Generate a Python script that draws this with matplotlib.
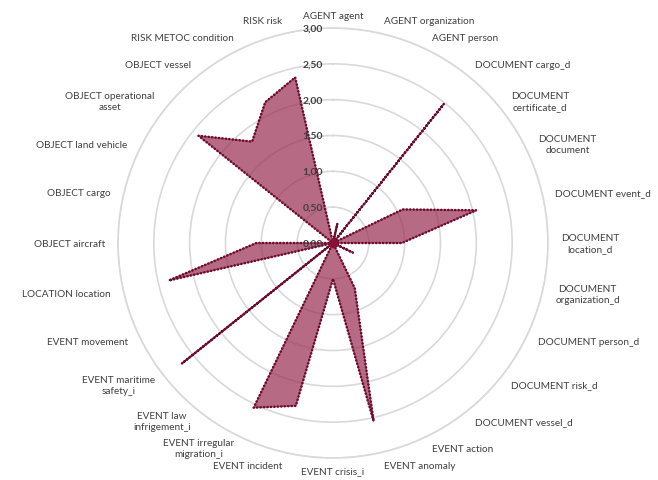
import numpy as np
import matplotlib.pyplot as plt
from matplotlib import rcParams

rcParams['font.family'] = ['Lato', 'DejaVu Sans']

# categories clockwise from the top
categories = ["AGENT agent", "AGENT organization", "AGENT person",
              "DOCUMENT cargo_d", "DOCUMENT\ncertificate_d", "DOCUMENT\ndocument",
              "DOCUMENT event_d", "DOCUMENT\nlocation_d", "DOCUMENT\norganization_d",
              "DOCUMENT person_d", "DOCUMENT risk_d", "DOCUMENT vessel_d",
              "EVENT action", "EVENT anomaly", "EVENT crisis_i", "EVENT incident",
              "EVENT irregular\nmigration_i", "EVENT law\ninfrigement_i",
              "EVENT maritime\nsafety_i", "EVENT movement", "LOCATION location",
              "OBJECT aircraft", "OBJECT cargo", "OBJECT land vehicle",
              "OBJECT operational\nasset", "OBJECT vessel", "RISK METOC condition",
              "RISK risk"]

values = [0.00, 0.28, 0.00,
          2.48, 0.00, 1.08,
          2.05, 0.96, 0.00,
          0.31, 0.00, 0.00,
          0.70, 2.55, 0.50, 2.33,
          2.55, 0.00,
          2.70, 0.00, 2.35,
          1.07, 0.00, 0.00,
          2.40, 1.81, 2.18,
          2.37]

ticks = [0.0, 0.5, 1.0, 1.5, 2.0, 2.5, 3.0]
tick_labels = ["0,00", "0,50", "1,00", "1,50", "2,00", "2,50", "3,00"]

n = len(categories)
angles = np.arange(n) * 2 * np.pi / n

fig = plt.figure(figsize=(6.58, 4.81), dpi=100)
ax = fig.add_axes([0.1793, 0.0457, 0.6535, 0.894], projection='polar')
ax.set_theta_zero_location('N')
ax.set_theta_direction(-1)
ax.set_ylim(0, 3.0)

# circular grid only, no spokes
ax.set_xticks([])
ax.set_yticks(ticks[1:])
ax.set_yticklabels([])
ax.yaxis.grid(True, color='#d9d9d9', linewidth=1.2)
ax.xaxis.grid(False)
ax.spines['polar'].set_color('#d9d9d9')
ax.spines['polar'].set_linewidth(1.2)

# series (semi transparent so the rings show through)
th = np.append(angles, angles[0])
vals = np.append(values, values[0])
ax.fill(th, vals, color='#9b3055', alpha=0.72, zorder=2)
ax.plot(th, vals, color='#6a0c2c', linewidth=1.9, linestyle=(0, (0.01, 1.3)),
        dash_capstyle='round', zorder=3)
ax.plot([0], [0], 'o', color='#8a1034', markersize=6, zorder=4)

# value labels along the top axis
for t, lab in zip(ticks, tick_labels):
    ax.annotate(lab, xy=(0, t), xytext=(-7, 0), textcoords='offset points',
                ha='right', va='center', fontsize=7.5, fontweight='bold',
                color='#404040', zorder=5, annotation_clip=False)

# category labels around the outside
for a, lab in zip(angles, categories):
    s = np.sin(a)
    if abs(s) < 0.05:
        ha = 'center'
    elif s > 0:
        ha = 'left'
    else:
        ha = 'right'
    ax.text(a, 3.18, lab, ha=ha, va='center', multialignment='center',
            fontsize=7.2, color='#404040', linespacing=1.3)

fig.savefig('out.png', dpi=100)
